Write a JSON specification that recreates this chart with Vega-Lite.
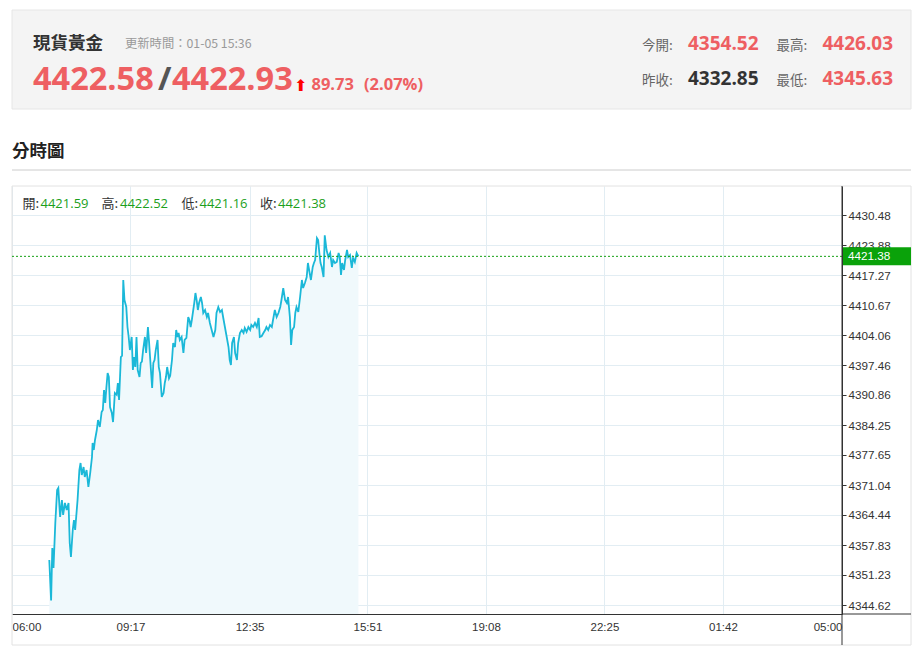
{
  "$schema": "https://vega.github.io/schema/vega-lite/v6.json",
  "autosize": "none",
  "width": 830,
  "height": 428,
  "padding": {"left": 12, "top": 186, "right": 81, "bottom": 40},
  "background": "#ffffff",
  "config": {"font": "Liberation Sans", "view": {"stroke": null}},
  "datasets": {
    "prices": [
      {"t": "2026-01-05T07:02", "price": 4354.52},
      {"t": "2026-01-05T07:05", "price": 4345.63},
      {"t": "2026-01-05T07:07", "price": 4357.17},
      {"t": "2026-01-05T07:09", "price": 4352.77},
      {"t": "2026-01-05T07:12", "price": 4362.67},
      {"t": "2026-01-05T07:15", "price": 4369.94},
      {"t": "2026-01-05T07:17", "price": 4370.38},
      {"t": "2026-01-05T07:20", "price": 4363.99},
      {"t": "2026-01-05T07:23", "price": 4367.74},
      {"t": "2026-01-05T07:25", "price": 4364.44},
      {"t": "2026-01-05T07:28", "price": 4367.08},
      {"t": "2026-01-05T07:31", "price": 4365.54},
      {"t": "2026-01-05T07:34", "price": 4367.08},
      {"t": "2026-01-05T07:36", "price": 4358.27},
      {"t": "2026-01-05T07:38", "price": 4355.19},
      {"t": "2026-01-05T07:41", "price": 4361.13},
      {"t": "2026-01-05T07:43", "price": 4363.33},
      {"t": "2026-01-05T07:45", "price": 4361.13},
      {"t": "2026-01-05T07:49", "price": 4367.74},
      {"t": "2026-01-05T07:52", "price": 4374.34},
      {"t": "2026-01-05T07:54", "price": 4375.88},
      {"t": "2026-01-05T07:56", "price": 4373.24},
      {"t": "2026-01-05T07:59", "price": 4375.00},
      {"t": "2026-01-05T08:01", "price": 4372.80},
      {"t": "2026-01-05T08:04", "price": 4374.34},
      {"t": "2026-01-05T08:07", "price": 4370.60},
      {"t": "2026-01-05T08:10", "price": 4373.68},
      {"t": "2026-01-05T08:13", "price": 4377.21},
      {"t": "2026-01-05T08:14", "price": 4380.29},
      {"t": "2026-01-05T08:16", "price": 4378.75},
      {"t": "2026-01-05T08:18", "price": 4380.95},
      {"t": "2026-01-05T08:21", "price": 4383.15},
      {"t": "2026-01-05T08:23", "price": 4385.35},
      {"t": "2026-01-05T08:26", "price": 4383.81},
      {"t": "2026-01-05T08:29", "price": 4387.11},
      {"t": "2026-01-05T08:31", "price": 4387.55},
      {"t": "2026-01-05T08:33", "price": 4391.96},
      {"t": "2026-01-05T08:35", "price": 4389.09},
      {"t": "2026-01-05T08:37", "price": 4392.62},
      {"t": "2026-01-05T08:39", "price": 4395.70},
      {"t": "2026-01-05T08:41", "price": 4394.82},
      {"t": "2026-01-05T08:43", "price": 4388.21},
      {"t": "2026-01-05T08:46", "price": 4386.89},
      {"t": "2026-01-05T08:48", "price": 4384.91},
      {"t": "2026-01-05T08:51", "price": 4391.30},
      {"t": "2026-01-05T08:54", "price": 4390.90},
      {"t": "2026-01-05T08:56", "price": 4393.50},
      {"t": "2026-01-05T08:58", "price": 4389.75},
      {"t": "2026-01-05T09:01", "price": 4399.22},
      {"t": "2026-01-05T09:03", "price": 4399.50},
      {"t": "2026-01-05T09:05", "price": 4416.18},
      {"t": "2026-01-05T09:07", "price": 4411.77},
      {"t": "2026-01-05T09:10", "price": 4410.23},
      {"t": "2026-01-05T09:12", "price": 4405.83},
      {"t": "2026-01-05T09:14", "price": 4403.63},
      {"t": "2026-01-05T09:16", "price": 4400.76},
      {"t": "2026-01-05T09:19", "price": 4403.63},
      {"t": "2026-01-05T09:21", "price": 4396.36},
      {"t": "2026-01-05T09:23", "price": 4399.22},
      {"t": "2026-01-05T09:25", "price": 4397.02},
      {"t": "2026-01-05T09:27", "price": 4403.63},
      {"t": "2026-01-05T09:29", "price": 4396.36},
      {"t": "2026-01-05T09:32", "price": 4394.82},
      {"t": "2026-01-05T09:34", "price": 4397.90},
      {"t": "2026-01-05T09:36", "price": 4398.20},
      {"t": "2026-01-05T09:38", "price": 4400.76},
      {"t": "2026-01-05T09:41", "price": 4403.63},
      {"t": "2026-01-05T09:43", "price": 4400.10},
      {"t": "2026-01-05T09:46", "price": 4405.83},
      {"t": "2026-01-05T09:48", "price": 4402.30},
      {"t": "2026-01-05T09:51", "price": 4396.36},
      {"t": "2026-01-05T09:53", "price": 4392.40},
      {"t": "2026-01-05T09:55", "price": 4397.90},
      {"t": "2026-01-05T09:57", "price": 4398.56},
      {"t": "2026-01-05T09:59", "price": 4400.76},
      {"t": "2026-01-05T10:02", "price": 4402.97},
      {"t": "2026-01-05T10:04", "price": 4397.02},
      {"t": "2026-01-05T10:06", "price": 4395.70},
      {"t": "2026-01-05T10:09", "price": 4390.42},
      {"t": "2026-01-05T10:12", "price": 4391.30},
      {"t": "2026-01-05T10:14", "price": 4393.50},
      {"t": "2026-01-05T10:16", "price": 4394.82},
      {"t": "2026-01-05T10:18", "price": 4397.02},
      {"t": "2026-01-05T10:21", "price": 4394.50},
      {"t": "2026-01-05T10:23", "price": 4395.10},
      {"t": "2026-01-05T10:26", "price": 4398.56},
      {"t": "2026-01-05T10:28", "price": 4402.30},
      {"t": "2026-01-05T10:31", "price": 4401.42},
      {"t": "2026-01-05T10:33", "price": 4405.17},
      {"t": "2026-01-05T10:35", "price": 4403.63},
      {"t": "2026-01-05T10:37", "price": 4404.51},
      {"t": "2026-01-05T10:39", "price": 4402.97},
      {"t": "2026-01-05T10:42", "price": 4403.63},
      {"t": "2026-01-05T10:45", "price": 4400.10},
      {"t": "2026-01-05T10:47", "price": 4402.97},
      {"t": "2026-01-05T10:50", "price": 4403.41},
      {"t": "2026-01-05T10:53", "price": 4408.03},
      {"t": "2026-01-05T10:55", "price": 4407.37},
      {"t": "2026-01-05T10:57", "price": 4405.83},
      {"t": "2026-01-05T10:59", "price": 4407.37},
      {"t": "2026-01-05T11:03", "price": 4411.11},
      {"t": "2026-01-05T11:05", "price": 4413.31},
      {"t": "2026-01-05T11:07", "price": 4411.77},
      {"t": "2026-01-05T11:09", "price": 4409.57},
      {"t": "2026-01-05T11:11", "price": 4411.11},
      {"t": "2026-01-05T11:14", "price": 4412.43},
      {"t": "2026-01-05T11:16", "price": 4411.11},
      {"t": "2026-01-05T11:18", "price": 4408.91},
      {"t": "2026-01-05T11:21", "price": 4409.57},
      {"t": "2026-01-05T11:24", "price": 4408.03},
      {"t": "2026-01-05T11:26", "price": 4408.91},
      {"t": "2026-01-05T11:29", "price": 4406.71},
      {"t": "2026-01-05T11:32", "price": 4405.17},
      {"t": "2026-01-05T11:35", "price": 4403.63},
      {"t": "2026-01-05T11:38", "price": 4405.17},
      {"t": "2026-01-05T11:40", "price": 4408.91},
      {"t": "2026-01-05T11:43", "price": 4410.23},
      {"t": "2026-01-05T11:46", "price": 4409.13},
      {"t": "2026-01-05T11:49", "price": 4409.57},
      {"t": "2026-01-05T11:51", "price": 4408.03},
      {"t": "2026-01-05T11:54", "price": 4405.83},
      {"t": "2026-01-05T11:57", "price": 4403.63},
      {"t": "2026-01-05T12:00", "price": 4401.42},
      {"t": "2026-01-05T12:02", "price": 4398.56},
      {"t": "2026-01-05T12:04", "price": 4397.46},
      {"t": "2026-01-05T12:06", "price": 4402.30},
      {"t": "2026-01-05T12:09", "price": 4403.63},
      {"t": "2026-01-05T12:11", "price": 4400.10},
      {"t": "2026-01-05T12:14", "price": 4398.56},
      {"t": "2026-01-05T12:16", "price": 4402.30},
      {"t": "2026-01-05T12:19", "price": 4404.51},
      {"t": "2026-01-05T12:22", "price": 4405.17},
      {"t": "2026-01-05T12:25", "price": 4404.51},
      {"t": "2026-01-05T12:27", "price": 4405.61},
      {"t": "2026-01-05T12:30", "price": 4404.73},
      {"t": "2026-01-05T12:33", "price": 4405.83},
      {"t": "2026-01-05T12:36", "price": 4405.17},
      {"t": "2026-01-05T12:38", "price": 4406.27},
      {"t": "2026-01-05T12:41", "price": 4405.83},
      {"t": "2026-01-05T12:44", "price": 4406.71},
      {"t": "2026-01-05T12:47", "price": 4405.83},
      {"t": "2026-01-05T12:50", "price": 4407.81},
      {"t": "2026-01-05T12:52", "price": 4403.63},
      {"t": "2026-01-05T12:55", "price": 4403.80},
      {"t": "2026-01-05T12:58", "price": 4404.51},
      {"t": "2026-01-05T13:01", "price": 4405.17},
      {"t": "2026-01-05T13:03", "price": 4405.83},
      {"t": "2026-01-05T13:06", "price": 4405.17},
      {"t": "2026-01-05T13:09", "price": 4406.27},
      {"t": "2026-01-05T13:12", "price": 4405.83},
      {"t": "2026-01-05T13:14", "price": 4407.37},
      {"t": "2026-01-05T13:17", "price": 4409.57},
      {"t": "2026-01-05T13:20", "price": 4408.03},
      {"t": "2026-01-05T13:23", "price": 4408.91},
      {"t": "2026-01-05T13:26", "price": 4410.23},
      {"t": "2026-01-05T13:28", "price": 4411.77},
      {"t": "2026-01-05T13:31", "price": 4414.41},
      {"t": "2026-01-05T13:34", "price": 4411.77},
      {"t": "2026-01-05T13:37", "price": 4411.11},
      {"t": "2026-01-05T13:39", "price": 4412.43},
      {"t": "2026-01-05T13:42", "price": 4408.03},
      {"t": "2026-01-05T13:44", "price": 4401.86},
      {"t": "2026-01-05T13:46", "price": 4405.17},
      {"t": "2026-01-05T13:49", "price": 4405.83},
      {"t": "2026-01-05T13:51", "price": 4408.91},
      {"t": "2026-01-05T13:53", "price": 4410.23},
      {"t": "2026-01-05T13:56", "price": 4409.13},
      {"t": "2026-01-05T13:59", "price": 4412.43},
      {"t": "2026-01-05T14:02", "price": 4416.18},
      {"t": "2026-01-05T14:04", "price": 4414.41},
      {"t": "2026-01-05T14:07", "price": 4415.51},
      {"t": "2026-01-05T14:10", "price": 4416.84},
      {"t": "2026-01-05T14:12", "price": 4419.92},
      {"t": "2026-01-05T14:14", "price": 4418.38},
      {"t": "2026-01-05T14:17", "price": 4416.18},
      {"t": "2026-01-05T14:20", "price": 4419.04},
      {"t": "2026-01-05T14:22", "price": 4419.92},
      {"t": "2026-01-05T14:24", "price": 4420.58},
      {"t": "2026-01-05T14:27", "price": 4425.42},
      {"t": "2026-01-05T14:29", "price": 4424.98},
      {"t": "2026-01-05T14:31", "price": 4422.12},
      {"t": "2026-01-05T14:33", "price": 4419.92},
      {"t": "2026-01-05T14:35", "price": 4419.04},
      {"t": "2026-01-05T14:38", "price": 4416.84},
      {"t": "2026-01-05T14:40", "price": 4426.03},
      {"t": "2026-01-05T14:43", "price": 4422.78},
      {"t": "2026-01-05T14:46", "price": 4421.24},
      {"t": "2026-01-05T14:49", "price": 4422.12},
      {"t": "2026-01-05T14:52", "price": 4419.04},
      {"t": "2026-01-05T14:54", "price": 4420.58},
      {"t": "2026-01-05T14:57", "price": 4419.92},
      {"t": "2026-01-05T15:00", "price": 4420.14},
      {"t": "2026-01-05T15:03", "price": 4422.12},
      {"t": "2026-01-05T15:05", "price": 4421.24},
      {"t": "2026-01-05T15:07", "price": 4417.28},
      {"t": "2026-01-05T15:09", "price": 4419.92},
      {"t": "2026-01-05T15:12", "price": 4418.38},
      {"t": "2026-01-05T15:14", "price": 4420.58},
      {"t": "2026-01-05T15:17", "price": 4422.78},
      {"t": "2026-01-05T15:19", "price": 4421.24},
      {"t": "2026-01-05T15:22", "price": 4421.68},
      {"t": "2026-01-05T15:25", "price": 4418.82},
      {"t": "2026-01-05T15:27", "price": 4421.02},
      {"t": "2026-01-05T15:30", "price": 4420.14},
      {"t": "2026-01-05T15:33", "price": 4422.12},
      {"t": "2026-01-05T15:36", "price": 4421.38}
    ]
  },
  "layer": [
    {
      "data": {"values": [{}]},
      "mark": {"type": "rect", "fill": "#f4f4f4", "stroke": "#e6e6e6", "strokeWidth": 1},
      "encoding": {"x": {"value": 0}, "x2": {"value": 899}, "y": {"value": -176}, "y2": {"value": -77}}
    },
    {
      "data": {"values": [{}]},
      "mark": {"type": "text", "text": "現貨黃金", "font": "Noto Sans CJK TC", "fontSize": 17.5, "fontWeight": "bold", "color": "#333333", "align": "left", "baseline": "alphabetic"},
      "encoding": {"x": {"value": 21}, "y": {"value": -137}}
    },
    {
      "data": {"values": [{}]},
      "mark": {"type": "text", "text": "更新時間：01-05 15:36", "font": "Noto Sans CJK TC", "fontSize": 12.3, "color": "#999999", "align": "left", "baseline": "alphabetic"},
      "encoding": {"x": {"value": 113}, "y": {"value": -138}}
    },
    {
      "data": {"values": [{}]},
      "mark": {"type": "text", "text": "4422.58", "font": "Open Sans", "fontSize": 32.5, "fontWeight": "bold", "color": "#ee5f62", "align": "left", "baseline": "alphabetic"},
      "encoding": {"x": {"value": 21}, "y": {"value": -96}}
    },
    {
      "data": {"values": [{}]},
      "mark": {"type": "text", "text": "/", "font": "Open Sans", "fontSize": 32.5, "fontWeight": "bold", "color": "#555555", "align": "left", "baseline": "alphabetic"},
      "encoding": {"x": {"value": 146}, "y": {"value": -96}}
    },
    {
      "data": {"values": [{}]},
      "mark": {"type": "text", "text": "4422.93", "font": "Open Sans", "fontSize": 32.5, "fontWeight": "bold", "color": "#ee5f62", "align": "left", "baseline": "alphabetic"},
      "encoding": {"x": {"value": 160}, "y": {"value": -96}}
    },
    {
      "data": {"values": [{}]},
      "mark": {"type": "text", "text": "⬆", "font": "DejaVu Sans", "fontSize": 16, "color": "#ff0000", "align": "left", "baseline": "alphabetic"},
      "encoding": {"x": {"value": 282}, "y": {"value": -95}}
    },
    {
      "data": {"values": [{}]},
      "mark": {"type": "text", "text": "89.73", "font": "Open Sans", "fontSize": 16.5, "fontWeight": "bold", "color": "#ee5f62", "align": "left", "baseline": "alphabetic"},
      "encoding": {"x": {"value": 299.5}, "y": {"value": -96}}
    },
    {
      "data": {"values": [{}]},
      "mark": {"type": "text", "text": "(2.07%)", "font": "Open Sans", "fontSize": 16.5, "fontWeight": "bold", "color": "#ee5f62", "align": "left", "baseline": "alphabetic"},
      "encoding": {"x": {"value": 352}, "y": {"value": -96}}
    },
    {
      "data": {"values": [{}]},
      "mark": {"type": "text", "text": "今開:", "font": "Noto Sans CJK TC", "fontSize": 13.5, "color": "#666666", "align": "left", "baseline": "alphabetic"},
      "encoding": {"x": {"value": 630}, "y": {"value": -136}}
    },
    {
      "data": {"values": [{}]},
      "mark": {"type": "text", "text": "4354.52", "font": "Open Sans", "fontSize": 19, "fontWeight": "bold", "color": "#ee5f62", "align": "left", "baseline": "alphabetic"},
      "encoding": {"x": {"value": 676}, "y": {"value": -136}}
    },
    {
      "data": {"values": [{}]},
      "mark": {"type": "text", "text": "最高:", "font": "Noto Sans CJK TC", "fontSize": 13.5, "color": "#666666", "align": "left", "baseline": "alphabetic"},
      "encoding": {"x": {"value": 764.5}, "y": {"value": -136}}
    },
    {
      "data": {"values": [{}]},
      "mark": {"type": "text", "text": "4426.03", "font": "Open Sans", "fontSize": 19, "fontWeight": "bold", "color": "#ee5f62", "align": "left", "baseline": "alphabetic"},
      "encoding": {"x": {"value": 810.5}, "y": {"value": -136}}
    },
    {
      "data": {"values": [{}]},
      "mark": {"type": "text", "text": "昨收:", "font": "Noto Sans CJK TC", "fontSize": 13.5, "color": "#666666", "align": "left", "baseline": "alphabetic"},
      "encoding": {"x": {"value": 630}, "y": {"value": -101}}
    },
    {
      "data": {"values": [{}]},
      "mark": {"type": "text", "text": "4332.85", "font": "Open Sans", "fontSize": 19, "fontWeight": "bold", "color": "#333333", "align": "left", "baseline": "alphabetic"},
      "encoding": {"x": {"value": 676}, "y": {"value": -101}}
    },
    {
      "data": {"values": [{}]},
      "mark": {"type": "text", "text": "最低:", "font": "Noto Sans CJK TC", "fontSize": 13.5, "color": "#666666", "align": "left", "baseline": "alphabetic"},
      "encoding": {"x": {"value": 764.5}, "y": {"value": -101}}
    },
    {
      "data": {"values": [{}]},
      "mark": {"type": "text", "text": "4345.63", "font": "Open Sans", "fontSize": 19, "fontWeight": "bold", "color": "#ee5f62", "align": "left", "baseline": "alphabetic"},
      "encoding": {"x": {"value": 810.5}, "y": {"value": -101}}
    },
    {
      "data": {"values": [{}]},
      "mark": {"type": "text", "text": "分時圖", "font": "Noto Sans CJK TC", "fontSize": 17.5, "fontWeight": "bold", "color": "#222222", "align": "left", "baseline": "alphabetic"},
      "encoding": {"x": {"value": 0}, "y": {"value": -29}}
    },
    {
      "data": {"values": [{}]},
      "mark": {"type": "rule", "color": "#cccccc", "strokeWidth": 1},
      "encoding": {"x": {"value": 0}, "x2": {"value": 899}, "y": {"value": -16}}
    },
    {
      "data": {"values": [{}]},
      "mark": {"type": "rect", "fill": null, "stroke": "#e2e2e2", "strokeWidth": 1},
      "encoding": {"x": {"value": 0}, "x2": {"value": 899}, "y": {"value": 0}, "y2": {"value": 459}}
    },
    {
      "data": {"name": "prices"},
      "mark": {"type": "area", "color": "#f0f9fc", "clip": true},
      "encoding": {
        "x": {
          "field": "t", "type": "temporal",
          "scale": {"domain": [{"year": 2026, "month": 1, "date": 5, "hours": 6, "minutes": 0}, {"year": 2026, "month": 1, "date": 6, "hours": 5, "minutes": 0}], "nice": false},
          "axis": {
            "title": null, "format": "%H:%M", "labelFlush": true, "ticks": false, "tickSize": 0, "tickCount": 30,
            "values": [
              {"year": 2026, "month": 1, "date": 5, "hours": 6, "minutes": 0},
              {"year": 2026, "month": 1, "date": 5, "hours": 9, "minutes": 17},
              {"year": 2026, "month": 1, "date": 5, "hours": 12, "minutes": 35},
              {"year": 2026, "month": 1, "date": 5, "hours": 15, "minutes": 51},
              {"year": 2026, "month": 1, "date": 5, "hours": 19, "minutes": 8},
              {"year": 2026, "month": 1, "date": 5, "hours": 22, "minutes": 25},
              {"year": 2026, "month": 1, "date": 6, "hours": 1, "minutes": 42},
              {"year": 2026, "month": 1, "date": 6, "hours": 5, "minutes": 0}
            ],
            "labelOverlap": false,
            "grid": true, "gridColor": "#e2edf3", "gridWidth": 1,
            "domainColor": "#333333", "domainWidth": 1,
            "labelFont": "Liberation Sans", "labelFontSize": 11.5, "labelColor": "#333333", "labelPadding": 7
          }
        },
        "y": {
          "field": "price", "type": "quantitative",
          "scale": {"domain": [4342.64, 4436.87], "nice": false, "zero": false},
          "axis": {
            "title": null, "orient": "right", "format": ".2f", "tickCount": 30,
            "values": [4344.62, 4351.23, 4357.83, 4364.44, 4371.04, 4377.65, 4384.25, 4390.86, 4397.46, 4404.06, 4410.67, 4417.27, 4423.88, 4430.48],
            "labelOverlap": false,
            "grid": true, "gridColor": "#e2edf3", "gridWidth": 1,
            "domainColor": "#333333", "domainWidth": 1,
            "ticks": true, "tickSize": 4, "tickColor": "#333333",
            "labelFont": "Liberation Sans", "labelFontSize": 11.7, "labelColor": "#333333", "labelPadding": 2
          }
        }
      }
    },
    {
      "data": {"name": "prices"},
      "mark": {"type": "line", "color": "#1bb8d8", "strokeWidth": 1.8, "clip": true},
      "encoding": {
        "x": {"field": "t", "type": "temporal"},
        "y": {"field": "price", "type": "quantitative"}
      }
    },
    {
      "data": {"values": [{}]},
      "mark": {"type": "rule", "color": "#16a016", "strokeWidth": 1, "strokeDash": [2, 2]},
      "encoding": {"y": {"datum": 4421.38, "type": "quantitative"}}
    },
    {
      "data": {"values": [{}]},
      "mark": {"type": "rule", "color": "#333333", "strokeWidth": 1},
      "encoding": {
        "x": {"datum": {"year": 2026, "month": 1, "date": 6, "hours": 5, "minutes": 0}, "type": "temporal"},
        "y": {"value": 0}, "y2": {"value": 459}
      }
    },
    {
      "data": {"values": [{}]},
      "mark": {"type": "rule", "color": "#333333", "strokeWidth": 1},
      "encoding": {
        "y": {"datum": 4342.64, "type": "quantitative"},
        "x": {"value": 830}, "x2": {"value": 899}
      }
    },
    {
      "data": {"values": [{}]},
      "mark": {"type": "rect", "fill": "#0aa20a", "yOffset": -9, "y2Offset": 9},
      "encoding": {
        "x": {"value": 831}, "x2": {"value": 899},
        "y": {"datum": 4421.38, "type": "quantitative"},
        "y2": {"datum": 4421.38}
      }
    },
    {
      "data": {"values": [{}]},
      "mark": {"type": "text", "text": "4421.38", "font": "Liberation Sans", "fontSize": 11.7, "color": "#ffffff", "align": "left", "baseline": "middle"},
      "encoding": {
        "x": {"value": 836},
        "y": {"datum": 4421.38, "type": "quantitative"}
      }
    },
    {
      "data": {"values": [{}]},
      "mark": {"type": "text", "text": "開:", "font": "Noto Sans CJK TC", "fontSize": 13, "color": "#333333", "align": "left", "baseline": "alphabetic"},
      "encoding": {"x": {"value": 10.5}, "y": {"value": 21.5}}
    },
    {
      "data": {"values": [{}]},
      "mark": {"type": "text", "text": "4421.59", "font": "Open Sans", "fontSize": 13, "color": "#1c9f1c", "align": "left", "baseline": "alphabetic"},
      "encoding": {"x": {"value": 28.5}, "y": {"value": 21.5}}
    },
    {
      "data": {"values": [{}]},
      "mark": {"type": "text", "text": "高:", "font": "Noto Sans CJK TC", "fontSize": 13, "color": "#333333", "align": "left", "baseline": "alphabetic"},
      "encoding": {"x": {"value": 89.5}, "y": {"value": 21.5}}
    },
    {
      "data": {"values": [{}]},
      "mark": {"type": "text", "text": "4422.52", "font": "Open Sans", "fontSize": 13, "color": "#1c9f1c", "align": "left", "baseline": "alphabetic"},
      "encoding": {"x": {"value": 108}, "y": {"value": 21.5}}
    },
    {
      "data": {"values": [{}]},
      "mark": {"type": "text", "text": "低:", "font": "Noto Sans CJK TC", "fontSize": 13, "color": "#333333", "align": "left", "baseline": "alphabetic"},
      "encoding": {"x": {"value": 169.5}, "y": {"value": 21.5}}
    },
    {
      "data": {"values": [{}]},
      "mark": {"type": "text", "text": "4421.16", "font": "Open Sans", "fontSize": 13, "color": "#1c9f1c", "align": "left", "baseline": "alphabetic"},
      "encoding": {"x": {"value": 187.5}, "y": {"value": 21.5}}
    },
    {
      "data": {"values": [{}]},
      "mark": {"type": "text", "text": "收:", "font": "Noto Sans CJK TC", "fontSize": 13, "color": "#333333", "align": "left", "baseline": "alphabetic"},
      "encoding": {"x": {"value": 248}, "y": {"value": 21.5}}
    },
    {
      "data": {"values": [{}]},
      "mark": {"type": "text", "text": "4421.38", "font": "Open Sans", "fontSize": 13, "color": "#1c9f1c", "align": "left", "baseline": "alphabetic"},
      "encoding": {"x": {"value": 266}, "y": {"value": 21.5}}
    }
  ]
}
